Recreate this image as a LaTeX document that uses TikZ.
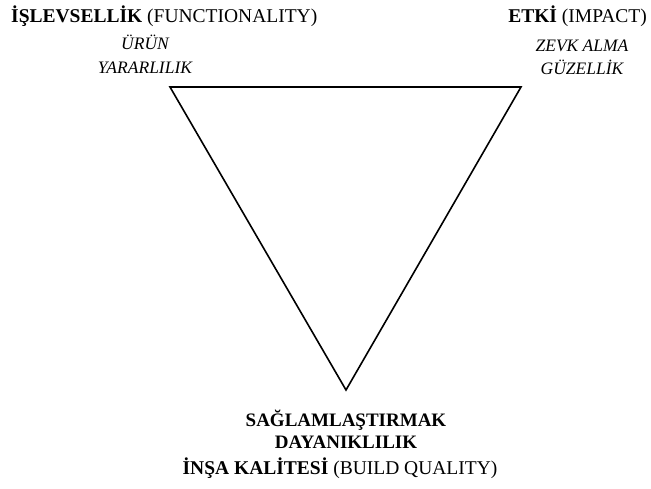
\documentclass[tikz,border=0pt]{standalone}
\usepackage{fontspec}
\setmainfont{Liberation Serif}
\begin{document}
\begin{tikzpicture}[x=1pt,y=-1pt,
  head/.style={inner sep=0pt,font=\fontsize{19.5}{21}\selectfont},
  sub/.style={inner sep=0pt,anchor=base,font=\fontsize{17.5}{19}\selectfont\itshape},
  subb/.style={inner sep=0pt,anchor=base,font=\fontsize{19}{21}\selectfont\bfseries},
  tri/.style={draw=black,line width=1.6pt,line join=miter}]
\useasboundingbox (0,0) rectangle (651,488);
\coordinate (tl) at (170,87);
\coordinate (tr) at (521,87);
\coordinate (bt) at (346,390);
\draw[tri] (tl) -- (tr) -- (bt) -- cycle;
\node[head,anchor=base west] (h1) at (11,22) {\textbf{İŞLEVSELLİK} (FUNCTIONALITY)};
\node[sub] (s1a) at (145,49) {ÜRÜN};
\node[sub] (s1b) at (145,73) {YARARLILIK};
\node[head,anchor=base east] (h2) at (647,22) {\textbf{ETKİ} (IMPACT)};
\node[sub] (s2a) at (582,51) {ZEVK ALMA};
\node[sub] (s2b) at (582,74) {GÜZELLİK};
\node[subb] (s3a) at (346,426) {SAĞLAMLAŞTIRMAK};
\node[subb] (s3b) at (346,448) {DAYANIKLILIK};
\node[head,anchor=base] (h3) at (340,474) {\textbf{İNŞA KALİTESİ} (BUILD QUALITY)};
\end{tikzpicture}
\end{document}
